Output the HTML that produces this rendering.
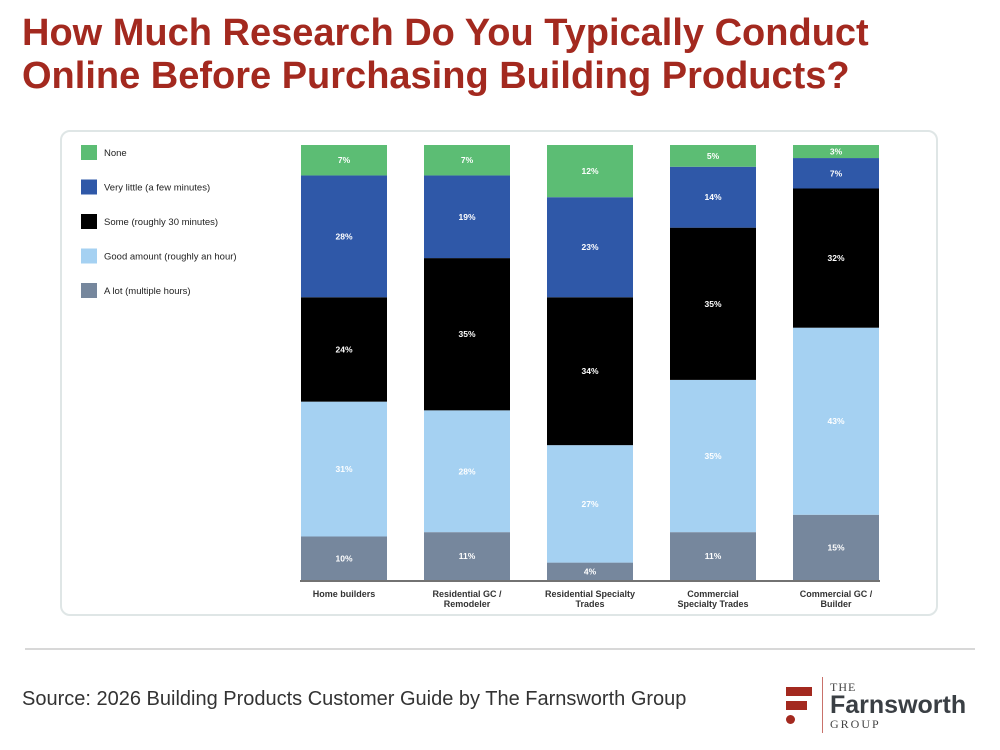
<!DOCTYPE html>
<html><head><meta charset="utf-8"><style>
body{margin:0;width:1000px;height:750px;background:#fff;font-family:"Liberation Sans",sans-serif;position:relative;overflow:hidden}
.title{position:absolute;left:22px;top:12px;color:#a3291f;font-weight:bold;font-size:38px;line-height:43px;margin:0;white-space:nowrap}
.card{position:absolute;left:60px;top:130px;width:878px;height:486px;border:2px solid #dfe6e6;border-radius:10px;box-sizing:border-box}
.rule{position:absolute;left:25px;top:648px;width:950px;height:2px;background:#d8d8d8}
.src{position:absolute;left:22px;top:688px;font-size:20px;color:#333}
</style></head><body>
<h1 class="title">How Much Research Do You Typically Conduct<br>Online Before Purchasing Building Products?</h1>
<div class="card"></div>
<svg id="chart" width="1000" height="750" style="position:absolute;left:0;top:0"></svg>
<div class="rule"></div>
<div class="src">Source: 2026 Building Products Customer Guide by The Farnsworth Group</div>
<div style="position:absolute;left:786px;top:675px;width:210px;height:60px">
  <div style="position:absolute;left:0;top:12px;width:26px;height:9px;background:#a3291f"></div>
  <div style="position:absolute;left:0;top:26px;width:21px;height:9px;background:#a3291f"></div>
  <div style="position:absolute;left:0;top:40px;width:9px;height:9px;border-radius:50%;background:#a3291f"></div>
  <div style="position:absolute;left:36px;top:2px;width:1px;height:56px;background:#c9716a"></div>
  <div style="position:absolute;left:44px;top:5px;font-family:'Liberation Serif',serif;font-size:12px;color:#444;letter-spacing:1px">THE</div>
  <div style="position:absolute;left:44px;top:16px;font-weight:bold;font-size:25px;color:#3a3f44">Farnsworth</div>
  <div style="position:absolute;left:44px;top:42px;font-family:'Liberation Serif',serif;font-size:12px;color:#444;letter-spacing:2px">GROUP</div>
</div>
<script>
const categories=[["Home builders"],["Residential GC /","Remodeler"],["Residential Specialty","Trades"],["Commercial","Specialty Trades"],["Commercial GC /","Builder"]];
const seriesNames=["None","Very little (a few minutes)","Some (roughly 30 minutes)","Good amount (roughly an hour)","A lot (multiple hours)"];
const none=[7,7,12,5,3];
const veryLittle=[28,19,23,14,7];
const some=[24,35,34,35,32];
const goodAmount=[31,28,27,35,43];
const aLot=[10,11,4,11,15];
const colors=["#5cbd74","#2f58a8","#000000","#a5d1f2","#76879d"];
const series=[none,veryLittle,some,goodAmount,aLot];
const svg=document.getElementById('chart');const NS="http://www.w3.org/2000/svg";
const top0=145,bot=580,x0=301,pitch=123,bw=86;
const y=v=>bot-(bot-top0)*v/100;
function mk(t,a){const e=document.createElementNS(NS,t);for(const k in a)e.setAttribute(k,a[k]);svg.appendChild(e);return e;}
seriesNames.forEach((n,i)=>{
  const r=mk('rect',{x:81,y:145+i*34.5,width:16,height:15,fill:colors[i]});
  
  
  const t=mk('text',{x:104,y:156+i*34.5,'font-size':9.5,fill:'#222'});t.textContent=n;
  
  
});
categories.forEach((c,j)=>{
  const bx=x0+j*pitch;let cum=0;
  for(let i=series.length-1;i>=0;i--){
    const v=series[i][j];const y1=y(cum+v),y2=y(cum);
    const r=mk('rect',{x:bx,y:y1,width:bw,height:y2-y1,fill:colors[i]});
    
    
    if(y2-y1>=12){const t=mk('text',{x:bx+bw/2,y:(y1+y2)/2+3,'font-size':8.5,'font-weight':'bold',fill:'#fff','text-anchor':'middle'});t.textContent=v+"%";
    
    }
    cum+=v;
  }
  c.forEach((l,k)=>{const t=mk('text',{x:bx+bw/2,y:597+k*10,'font-size':9,'font-weight':'bold',fill:'#333','text-anchor':'middle'});t.textContent=l;
  
  });
});
const ax=mk('line',{x1:300,y1:581,x2:880,y2:581,stroke:'#444','stroke-width':1.5});


</script>
</body></html>
